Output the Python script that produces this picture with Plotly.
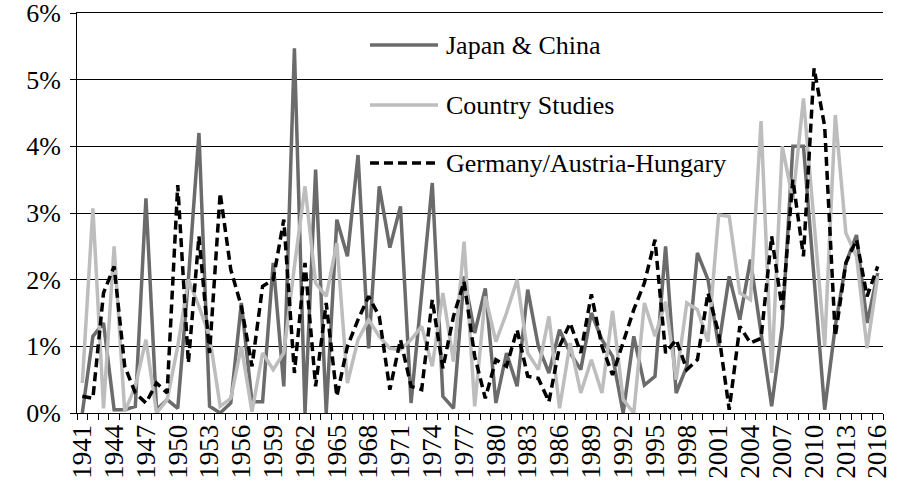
import plotly.graph_objects as go

years = list(range(1941, 2017))

japan_china = [
    0.0, 1.15, 1.35, 0.05, 0.05, 0.1, 3.22, 0.05, 0.2, 0.07,      # 1941-1950
    2.0, 4.2, 0.1, 0.0, 0.15, 1.65, 0.17, 0.17, 2.25, 0.4,        # 1951-1960
    5.47, 0.0, 3.65, 0.0, 2.9, 2.35, 3.87, 0.97, 3.4, 2.48,       # 1961-1970
    3.1, 0.15, 1.8, 3.45, 0.25, 0.07, 2.05, 1.2, 1.87, 0.15,      # 1971-1980
    0.9, 0.4, 1.85, 1.0, 0.6, 1.25, 0.9, 0.65, 1.5, 1.1,          # 1981-1990
    0.85, 0.0, 1.15, 0.42, 0.55, 2.5, 0.3, 0.7, 2.4, 2.0,         # 1991-2000
    1.0, 2.05, 1.4, 2.3, 1.2, 0.1, 1.3, 4.0, 4.0, 2.0,            # 2001-2010
    0.05, 1.3, 2.25, 2.67, 1.35, 2.1,                             # 2011-2016
]

country_studies = [
    0.45, 3.07, 0.07, 2.5, 0.02, 0.4, 1.1, 0.0, 0.2, 1.0,         # 1941-1950
    2.0, 1.6, 1.15, 0.1, 0.22, 1.0, 0.02, 0.9, 0.65, 0.9,         # 1951-1960
    2.2, 3.4, 1.95, 1.75, 2.55, 0.45, 1.1, 1.4, 1.15, 0.97,       # 1961-1970
    0.95, 1.1, 1.3, 0.7, 1.8, 0.77, 2.57, 0.1, 1.75, 1.07,        # 1971-1980
    1.5, 2.0, 0.9, 0.65, 1.45, 0.07, 1.05, 0.3, 0.8, 0.3,         # 1981-1990
    1.53, 0.2, 0.0, 1.65, 1.15, 1.67, 0.5, 1.65, 1.55, 1.07,      # 1991-2000
    2.97, 2.95, 1.8, 1.7, 4.38, 0.6, 4.0, 3.2, 4.72, 2.9,         # 2001-2010
    1.0, 4.47, 2.7, 2.35, 0.97, 2.05,                             # 2011-2016
]

germany_austria = [
    0.25, 0.22, 1.8, 2.2, 0.7, 0.3, 0.15, 0.45, 0.3, 3.42,        # 1941-1950
    0.75, 2.65, 0.9, 3.3, 2.15, 1.6, 0.7, 1.9, 2.0, 2.9,          # 1951-1960
    0.6, 2.25, 0.4, 1.65, 0.25, 1.0, 1.4, 1.75, 1.45, 0.35,       # 1961-1970
    1.1, 0.4, 0.35, 1.7, 0.67, 1.45, 1.97, 0.85, 0.22, 0.8,       # 1971-1980
    0.7, 1.25, 0.55, 0.52, 0.17, 1.0, 1.35, 0.9, 1.78, 1.0,       # 1981-1990
    0.57, 1.05, 1.55, 1.95, 2.6, 0.9, 1.1, 0.65, 0.8, 1.8,        # 1991-2000
    1.2, 0.05, 1.3, 1.05, 1.12, 2.65, 1.55, 3.5, 2.35, 5.17,      # 2001-2010
    4.3, 1.15, 2.25, 2.6, 1.75, 2.2,                              # 2011-2016
]

series_names = ["Japan & China", "Country Studies", "Germany/Austria-Hungary"]
y_ticks = [0, 1, 2, 3, 4, 5, 6]
x_tick_years = years[::3]

colors = ["#6b6b6b", "#bdbdbd", "#000000"]
dashes = ["solid", "solid", "9px,5px"]
FONT = "Liberation Serif"

fig = go.Figure()
for name, vals, c, d in zip(series_names, [japan_china, country_studies, germany_austria], colors, dashes):
    fig.add_trace(go.Scatter(x=years, y=vals, mode="lines", name=name,
                             line=dict(color=c, width=3.5, dash=d),
                             showlegend=False))

# manual legend (long line samples as in the original), rows given in data units of y
legend_rows = [5.52, 4.62, 3.75]
x0, x1, xt = 0.3635, 0.4479, 0.455
for name, c, d, yy in zip(series_names, colors, dashes, legend_rows):
    fig.add_shape(type="line", xref="paper", yref="y", x0=x0, x1=x1, y0=yy, y1=yy,
                  line=dict(color=c, width=3.5, dash=d))
    fig.add_annotation(xref="paper", yref="y", x=xt, y=yy, text=name, showarrow=False,
                       xanchor="left", yanchor="middle",
                       font=dict(family=FONT, size=26, color="#000000"))

fig.update_layout(
    width=901, height=488,
    margin=dict(l=77, r=18, t=13, b=75),
    paper_bgcolor="white", plot_bgcolor="white",
    font=dict(family=FONT, size=26, color="#000000"),
    xaxis=dict(
        range=[1940.5, 2016.5], automargin=False,
        tickmode="array", tickvals=x_tick_years, ticktext=[str(y) for y in x_tick_years],
        tickangle=-90, ticks="", showgrid=False, zeroline=False,
        showline=True, linecolor="black", linewidth=1, mirror=True,
        tickfont=dict(family=FONT, size=27),
        minor=dict(ticks="outside", ticklen=6, tickcolor="black", tickwidth=1,
                   tickmode="linear", tick0=1940.5, dtick=1, showgrid=False),
    ),
    yaxis=dict(
        range=[0, 6], automargin=False, tickmode="array", tickvals=y_ticks,
        ticktext=[f"{v}%" for v in y_ticks], ticklabeloverflow="allow",
        ticks="outside", ticklen=6, tickcolor="black", ticklabelstandoff=4,
        showgrid=True, gridcolor="black", gridwidth=1,
        zeroline=False, showline=True, linecolor="black", linewidth=1,
        tickfont=dict(family=FONT, size=26),
    ),
)

fig.write_html("out.html", config={"displayModeBar": False},
               post_script="document.body.style.margin='0';document.body.style.overflow='hidden';")
